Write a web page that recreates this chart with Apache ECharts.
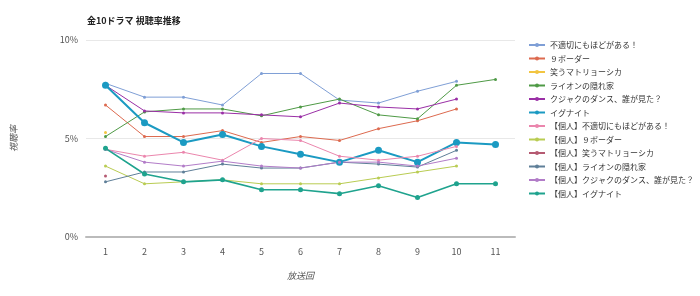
<!DOCTYPE html>
<html lang="ja">
<head>
    <meta charset="UTF-8">
    <title>金10ドラマ 視聴率推移</title>
    <script src="https://cdn.jsdelivr.net/npm/echarts@6/dist/echarts.min.js"></script>
    <style>
        html, body { margin: 0; padding: 0; background: #fff; }
        #main { width: 700px; height: 296px; }
    </style>
</head>
<body>
    <div id="main"></div>
    <script type="text/javascript">
        // 放送回
        const episodes = ['1', '2', '3', '4', '5', '6', '7', '8', '9', '10', '11'];

        // 各ドラマの視聴率 (%)
        const futekisetsu = [7.8, 7.1, 7.1, 6.7, 8.3, 8.3, 6.95, 6.8, 7.4, 7.9, null];
        const kuBorder    = [6.7, 5.1, 5.1, 5.4, 4.8, 5.1, 4.9, 5.5, 5.9, 6.5, null];
        const matryoshka  = [5.3, null, null, null, null, null, null, null, null, null, null];
        const lion        = [5.1, 6.35, 6.5, 6.5, 6.15, 6.6, 7.0, 6.2, 6.0, 7.7, 8.0];
        const kujaku      = [7.7, 6.4, 6.3, 6.3, 6.2, 6.1, 6.8, 6.6, 6.5, 7.0, null];
        const ignite      = [7.7, 5.8, 4.8, 5.2, 4.6, 4.2, 3.8, 4.4, 3.8, 4.8, 4.7];

        // 個人視聴率 (%)
        const kojinFutekisetsu = [4.45, 4.1, 4.3, 3.9, 5.0, 4.9, 4.1, 3.9, 4.1, 4.6, null];
        const kojinKuBorder    = [3.6, 2.7, 2.8, 2.9, 2.7, 2.7, 2.7, 3.0, 3.3, 3.6, null];
        const kojinMatryoshka  = [3.1, null, null, null, null, null, null, null, null, null, null];
        const kojinLion        = [2.8, 3.3, 3.3, 3.7, 3.5, 3.5, 3.8, 3.7, 3.55, 4.4, null];
        const kojinKujaku      = [4.45, 3.8, 3.6, 3.85, 3.6, 3.5, 3.8, 3.8, 3.6, 4.0, null];
        const kojinIgnite      = [4.5, 3.2, 2.8, 2.9, 2.4, 2.4, 2.2, 2.6, 2.0, 2.7, 2.7];

        const seriesDefs = [
            { name: '不適切にもほどがある！', data: futekisetsu, color: '#7f9fd6' },
            { name: '９ボーダー', data: kuBorder, color: '#dd6a4f' },
            { name: '笑うマトリョーシカ', data: matryoshka, color: '#f2c541' },
            { name: 'ライオンの隠れ家', data: lion, color: '#4f9a46' },
            { name: 'クジャクのダンス、誰が見た？', data: kujaku, color: '#9a2fa6' },
            { name: 'イグナイト', data: ignite, color: '#1b9ac2', big: true },
            { name: '【個人】不適切にもほどがある！', data: kojinFutekisetsu, color: '#eb86ad' },
            { name: '【個人】９ボーダー', data: kojinKuBorder, color: '#b9cc52' },
            { name: '【個人】笑うマトリョーシカ', data: kojinMatryoshka, color: '#b55a72' },
            { name: '【個人】ライオンの隠れ家', data: kojinLion, color: '#5f7f98' },
            { name: '【個人】クジャクのダンス、誰が見た？', data: kojinKujaku, color: '#b27cc8' },
            { name: '【個人】イグナイト', data: kojinIgnite, color: '#1fa38e', mid: true }
        ];

        var myChart = echarts.init(document.getElementById('main'));

        var option = {
            backgroundColor: '#fff',
            textStyle: { fontFamily: '"Noto Sans CJK JP", "Noto Sans", sans-serif' },
            title: {
                text: '金10ドラマ 視聴率推移',
                left: 82,
                top: 11,
                textStyle: { fontSize: 9, fontWeight: 'bold', color: '#222' }
            },
            legend: {
                orient: 'vertical',
                left: 523,
                top: 35,
                itemGap: 3.5,
                itemWidth: 16,
                itemHeight: 5,
                textStyle: { fontSize: 8, color: '#333', lineHeight: 10 },
                data: seriesDefs.map(s => s.name)
            },
            grid: { left: 86, right: 185, top: 40, bottom: 59 },
            xAxis: {
                type: 'category',
                data: episodes,
                boundaryGap: true,
                name: '放送回',
                nameLocation: 'middle',
                nameGap: 34,
                nameTextStyle: { fontSize: 9, color: '#555', fontStyle: 'italic' },
                axisLine: { lineStyle: { color: '#bbb', width: 2 } },
                axisTick: { show: false },
                axisLabel: { fontSize: 9, color: '#555', margin: 10 }
            },
            yAxis: {
                type: 'value',
                min: 0,
                max: 10,
                interval: 5,
                name: '視聴率',
                nameLocation: 'middle',
                nameGap: 68,
                nameTextStyle: { fontSize: 9, color: '#555', fontStyle: 'italic' },
                axisLine: { show: false },
                axisTick: { show: false },
                axisLabel: { fontSize: 9, color: '#555', formatter: '{value}%', margin: 8 },
                splitLine: { lineStyle: { color: '#e8e8e8', width: 1 } }
            },
            series: seriesDefs.map(s => ({
                name: s.name,
                type: 'line',
                data: s.data,
                color: s.color,
                symbol: 'circle',
                symbolSize: s.big ? 7 : (s.mid ? 5 : 3),
                showAllSymbol: true,
                lineStyle: { width: s.big ? 2 : (s.mid ? 1.6 : 1), color: s.color },
                itemStyle: { color: s.color },
                emphasis: { disabled: true },
                animation: false
            }))
        };

        myChart.setOption(option);
    </script>
</body>
</html>
